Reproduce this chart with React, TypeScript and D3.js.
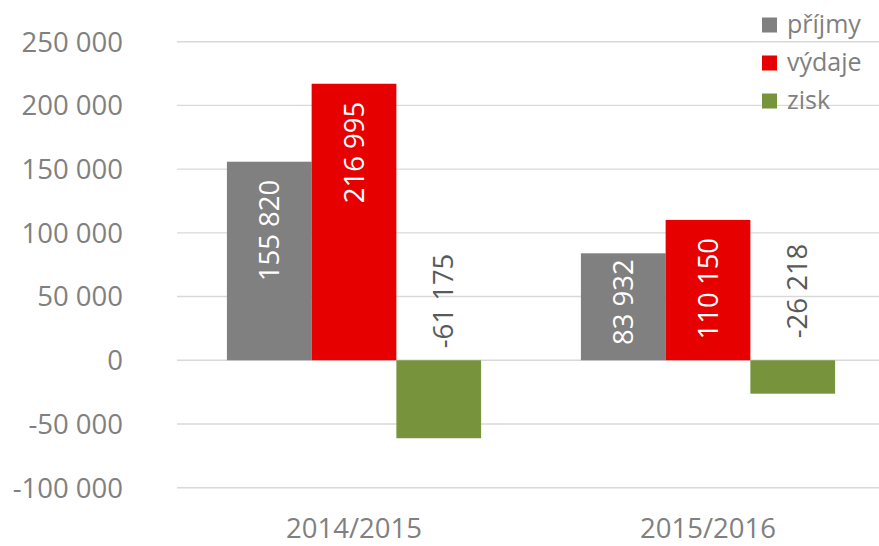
import React from "react";
import * as d3 from "d3";

const categories = ["2014/2015", "2015/2016"];
const seriesNames = ["příjmy", "výdaje", "zisk"];
const prijmyVals = [155820, 83932];
const vydajeVals = [216995, 110150];
const zisk = [-61175, -26218];
const yTicks = [-100000, -50000, 0, 50000, 100000, 150000, 200000, 250000];

const colors = ["#808080", "#e60000", "#77933c"];
const zeroLabelGap = [12, 22];

const W = 879;
const H = 546;
const FONT = "'Open Sans', 'Noto Sans', sans-serif";

const fmt = (v: number) => {
  const s = Math.abs(v)
    .toString()
    .replace(/\B(?=(\d{3})+(?!\d))/g, " ");
  return (v < 0 ? "-" : "") + s;
};

export default function App() {
  const values = [prijmyVals, vydajeVals, zisk];
  const x0 = d3
    .scaleBand<string>()
    .domain(categories)
    .range([177, 885])
    .paddingInner(0.282)
    .paddingOuter(0.141);
  const x1 = d3
    .scaleBand<string>()
    .domain(seriesNames)
    .range([0, x0.bandwidth()]);
  const y = d3.scaleLinear().domain([-100000, 250000]).range([487.7, 41.7]);
  const y0 = y(0);

  return (
    <svg
      width={W}
      height={H}
      style={{ position: "absolute", left: 0, top: 0, background: "#fff" }}
      fontFamily={FONT}
    >
      {yTicks.map((t) => (
        <g key={t}>
          <line
            x1={177}
            x2={W}
            y1={y(t)}
            y2={y(t)}
            stroke="#d9d9d9"
            strokeWidth={1.4}
          />
          <text
            x={123}
            y={y(t)}
            dy="0.36em"
            textAnchor="end"
            fontSize={27.5}
            fill="#808080"
          >
            {fmt(t)}
          </text>
        </g>
      ))}
      {categories.map((c, ci) => (
        <g key={c}>
          {seriesNames.map((s, si) => {
            const v = values[si][ci];
            const bx = (x0(c) as number) + (x1(s) as number);
            const bw = x1.bandwidth();
            const top = y(Math.max(0, v));
            const bot = y(Math.min(0, v));
            const cx = bx + bw / 2;
            const label = fmt(v);
            let lx = cx;
            let ly: number;
            let anchor: string;
            let fill: string;
            if (v >= 0) {
              const gap = label.length >= 7 ? 18 : 6;
              ly = top + gap;
              anchor = "end";
              fill = "#ffffff";
            } else {
              ly = y0 - zeroLabelGap[ci];
              anchor = "start";
              fill = "#595959";
              lx = cx + 4;
            }
            return (
              <g key={s}>
                <rect
                  x={bx}
                  y={top}
                  width={bw}
                  height={bot - top}
                  fill={colors[si]}
                />
                <text
                  transform={`translate(${lx},${ly}) rotate(-90)`}
                  dy="0.36em"
                  textAnchor={anchor}
                  fontSize={27.5}
                  fill={fill}
                >
                  {label}
                </text>
              </g>
            );
          })}
          <text
            x={(x0(c) as number) + x0.bandwidth() / 2}
            y={528}
            dy="0.36em"
            textAnchor="middle"
            fontSize={27.5}
            fill="#808080"
          >
            {c}
          </text>
        </g>
      ))}
      {seriesNames.map((s, i) => (
        <g key={s} transform={`translate(762, ${25 + i * 38})`}>
          <rect x={0} y={-7.5} width={15} height={15} fill={colors[i]} />
          <text x={25} y={0} dy="0.3em" fontSize={25} fill="#808080">
            {s}
          </text>
        </g>
      ))}
    </svg>
  );
}
